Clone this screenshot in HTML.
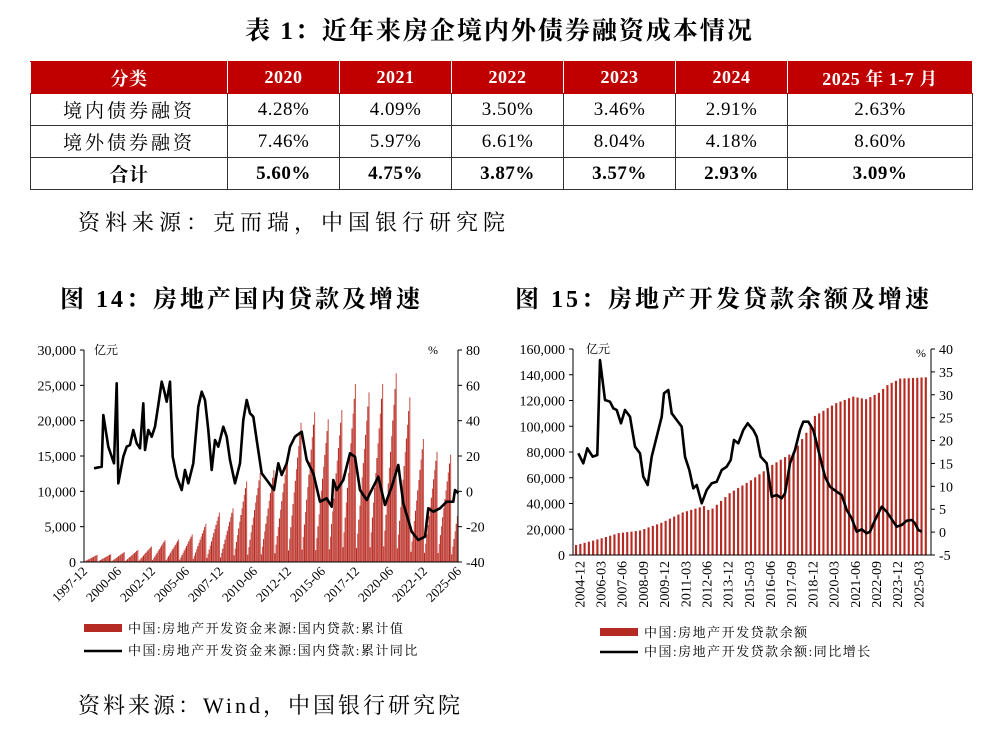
<!DOCTYPE html>
<html><head><meta charset="utf-8">
<style>
body{margin:0;width:999px;height:735px;background:#fff;overflow:hidden;position:relative;font-family:"Liberation Serif","Noto Serif CJK SC",serif;}
.t{position:absolute;white-space:nowrap;}
table{position:absolute;left:30px;top:61px;border-collapse:collapse;font-size:19px;}
td{border:1px solid #333;text-align:center;height:31px;padding:0;letter-spacing:0.5px;}
tr.h td{background:#c00000;color:#fff;font-weight:bold;border-color:#c00000 #fff;font-size:18px;}
tr.b td{font-weight:bold;}
</style></head><body>
<div class="t" style="left:0;width:999px;text-align:center;top:11px;font-size:25px;font-weight:bold;letter-spacing:2px;">表 1：近年来房企境内外债券融资成本情况</div>
<table>
<tr class="h"><td style="width:196px">分类</td><td style="width:111px">2020</td><td style="width:111px">2021</td><td style="width:111px">2022</td><td style="width:111px">2023</td><td style="width:111px">2024</td><td style="width:184px">2025 年 1-7 月</td></tr>
<tr><td style="letter-spacing:3px">境内债券融资</td><td>4.28%</td><td>4.09%</td><td>3.50%</td><td>3.46%</td><td>2.91%</td><td>2.63%</td></tr>
<tr><td style="letter-spacing:3px">境外债券融资</td><td>7.46%</td><td>5.97%</td><td>6.61%</td><td>8.04%</td><td>4.18%</td><td>8.60%</td></tr>
<tr class="b"><td>合计</td><td>5.60%</td><td>4.75%</td><td>3.87%</td><td>3.57%</td><td>2.93%</td><td>3.09%</td></tr>
</table>
<div class="t" style="left:78px;top:206px;font-size:22px;letter-spacing:5px;">资料来源：克而瑞，中国银行研究院</div>
<div class="t" style="left:60px;top:279px;font-size:24px;font-weight:bold;letter-spacing:3px;">图 14：房地产国内贷款及增速</div>
<div class="t" style="left:515px;top:279px;font-size:24px;font-weight:bold;letter-spacing:3px;">图 15：房地产开发贷款余额及增速</div>
<div class="t" style="left:78px;top:689px;font-size:22px;letter-spacing:3px;">资料来源：Wind，中国银行研究院</div>
<svg id="s" width="999" height="735" style="position:absolute;left:0;top:0" xmlns="http://www.w3.org/2000/svg" font-family="Liberation Serif, Noto Serif CJK SC, serif"></svg>
<script>
var s=document.getElementById('s'),h='';
function T(x,y,t,a,sz,extra){h+='<text x="'+x+'" y="'+y+'" font-size="'+(sz||12)+'" text-anchor="'+(a||'start')+'" '+(extra||'')+'>'+t+'</text>';}
function L(x1,y1,x2,y2,w,c){h+='<line x1="'+x1+'" y1="'+y1+'" x2="'+x2+'" y2="'+y2+'" stroke="'+(c||'#000')+'" stroke-width="'+(w||1)+'"/>';}
function fmt(n){return String(n).replace(/\B(?=(\d{3})+(?!\d))/g,',');}
// ---- left chart
var X0=84,X1=458,Y0=562,YT=350;
var peaks=[1000,1100,1400,1700,2200,3100,3200,3900,5400,7000,7600,11400,12600,13000,14800,19700,21200,20200,21500,25200,24000,25200,26700,23300,17400,15600,15200,6500];
var nm=27*12+6,bw=(X1-X0)/nm;
for(var i=0;i<nm;i++){var yr=Math.floor(i/12),m=i%12+1,p=peaks[yr];var v=yr==27?p*m/6:p*m/12;var hh=v/30000*(Y0-YT);var x=X0+i*bw;h+='<rect x="'+x.toFixed(2)+'" y="'+(Y0-hh).toFixed(1)+'" width="'+(bw*0.95).toFixed(2)+'" height="'+hh.toFixed(1)+'" fill="'+(m%2?'#b52a22':'#cc5a52')+'"/>';}
var lp=[[222,415],[245,410],[250,255],[265,350],[282,400],[290,160],[295,460],[310,380],[320,350],[330,345],[340,300],[350,340],[360,355],[370,220],[375,360],[385,300],[395,320],[405,290],[415,225],[425,155],[432,180],[440,215],[450,155],[458,380],[470,440],[485,480],[495,420],[505,460],[520,400],[535,230],[545,185],[555,210],[565,300],[575,420],[585,330],[595,350],[610,290],[620,320],[630,390],[645,460],[660,400],[670,270],[680,210],[690,250],[700,260],[710,330],[725,430],[740,450],[762,480],[775,400],[785,435],[800,400],[810,350],[825,320],[845,305],[860,390],[880,430],[900,515],[920,505],[935,530],[940,450],[950,480],[970,450],[990,370],[1005,380],[1020,480],[1040,510],[1060,470],[1075,440],[1095,525],[1115,470],[1135,405],[1150,520],[1175,605],[1195,630],[1215,620],[1225,535],[1240,545],[1260,535],[1280,515],[1300,515],[1305,480],[1315,490]];
h+='<polyline fill="none" stroke="#000" stroke-width="2.6" stroke-linejoin="round" points="'+lp.map(function(p){return (20+p[0]/3).toFixed(1)+','+(330+p[1]/3).toFixed(1)}).join(' ')+'"/>';
L(X0,YT,X0,Y0);L(X1,YT,X1,Y0);L(X0,Y0,X1,Y0);
for(var k=0;k<=6;k++){var y=Y0-k*(Y0-YT)/6;L(X0-4,y,X0,y);T(X0-8,y+5,fmt(k*5000),'end',14);}
var rl=[-40,-20,0,20,40,60,80];for(var k=0;k<7;k++){var y=Y0-k*(Y0-YT)/6;L(X1,y,X1+4,y);T(X1+8,y+5,rl[k],'start',14);}
T(94,354,'亿元','start',12);T(438,354,'%','end',12);
var xl=['1997-12','2000-06','2002-12','2005-06','2007-12','2010-06','2012-12','2015-06','2017-12','2020-06','2022-12','2025-06'];
for(var k=0;k<xl.length;k++){var x=X0+k*(X1-X0)/11;T(x+4,Y0+10,xl[k],'end',13,'transform="rotate(-45 '+(x+4)+' '+(Y0+10)+')"');}
h+='<rect x="84" y="624" width="38" height="8" fill="#b52a22"/>';L(84,651,122,651,2.6);
T(128,633,'中国:房地产开发资金来源:国内贷款:累计值','start',13,'letter-spacing="1.5"');T(128,655,'中国:房地产开发资金来源:国内贷款:累计同比','start',13,'letter-spacing="1.5"');
// ---- right chart
var A0=573,A1=931,B0=555,BT=349;
var kp=[[0,7800],[5,12000],[10,17000],[15,19000],[20,25000],[25,33000],[30,38000],[31,35000],[32,36000],[36,48000],[41,58000],[44,65000],[46,70000],[51,80000],[54,95000],[56,108000],[61,118000],[65,123000],[68,121000],[71,126000],[73,132000],[76,137000],[82,138000]];
var nq=83,qw=(A1-A0-4)/nq;
function iv(q){for(var j=0;j<kp.length-1;j++){if(q>=kp[j][0]&&q<=kp[j+1][0]){var f=(q-kp[j][0])/(kp[j+1][0]-kp[j][0]);return kp[j][1]+f*(kp[j+1][1]-kp[j][1]);}}return 138000;}
for(var q=0;q<nq;q++){var v=iv(q),hh=v/160000*(B0-BT);h+='<rect x="'+(A0+2+q*qw).toFixed(2)+'" y="'+(B0-hh).toFixed(1)+'" width="'+(qw*0.5).toFixed(2)+'" height="'+hh.toFixed(1)+'" fill="#b52a22"/>';}
var rp=[[205,370],[220,400],[232,355],[248,380],[262,375],[270,90],[285,210],[300,215],[310,235],[320,240],[333,280],[345,240],[360,260],[375,350],[390,370],[400,440],[413,465],[425,380],[440,320],[455,260],[462,190],[475,180],[485,250],[500,270],[515,290],[525,380],[538,420],[550,475],[560,465],[575,520],[590,480],[605,460],[620,455],[635,420],[650,410],[662,390],[672,330],[685,340],[700,300],[713,280],[730,300],[740,320],[752,380],[770,400],[785,500],[800,495],[815,505],[825,490],[840,400],[855,360],[870,300],[880,275],[895,275],[910,300],[930,380],[945,440],[960,470],[980,485],[995,495],[1010,540],[1025,565],[1040,605],[1055,598],[1070,610],[1080,605],[1095,570],[1115,530],[1130,545],[1140,560],[1160,590],[1175,585],[1190,572],[1205,570],[1215,580],[1225,600],[1235,605]];
h+='<polyline fill="none" stroke="#000" stroke-width="2.6" stroke-linejoin="round" points="'+rp.map(function(p){return (510+p[0]/3).toFixed(1)+','+(330+p[1]/3).toFixed(1)}).join(' ')+'"/>';
L(A0,BT,A0,B0);L(A1,BT,A1,B0);L(A0,B0,A1,B0);
for(var k=0;k<=8;k++){var y=B0-k*(B0-BT)/8;L(A0-4,y,A0,y);T(A0-8,y+5,fmt(k*20000),'end',14);}
for(var k=0;k<=9;k++){var y=B0-k*(B0-BT)/9;L(A1,y,A1+4,y);T(A1+8,y+5,k*5-5,'start',14);}
T(586,353,'亿元','start',12);T(926,357,'%','end',12);
var rx=['2004-12','2006-03','2007-06','2008-09','2009-12','2011-03','2012-06','2013-12','2015-03','2016-06','2017-09','2018-12','2020-03','2021-06','2022-09','2023-12','2025-03'];
for(var k=0;k<rx.length;k++){var x=510+(208+k*(1225-208)/16)/3+5;T(x,B0+6,rx[k],'end',14,'transform="rotate(-90 '+x+' '+(B0+6)+')"');}
h+='<rect x="600" y="628" width="38" height="8" fill="#b52a22"/>';L(600,652,638,652,2.6);
T(644,637,'中国:房地产开发贷款余额','start',13,'letter-spacing="1.5"');T(644,656,'中国:房地产开发贷款余额:同比增长','start',13,'letter-spacing="1.5"');
s.innerHTML=h;
</script>
</body></html>
